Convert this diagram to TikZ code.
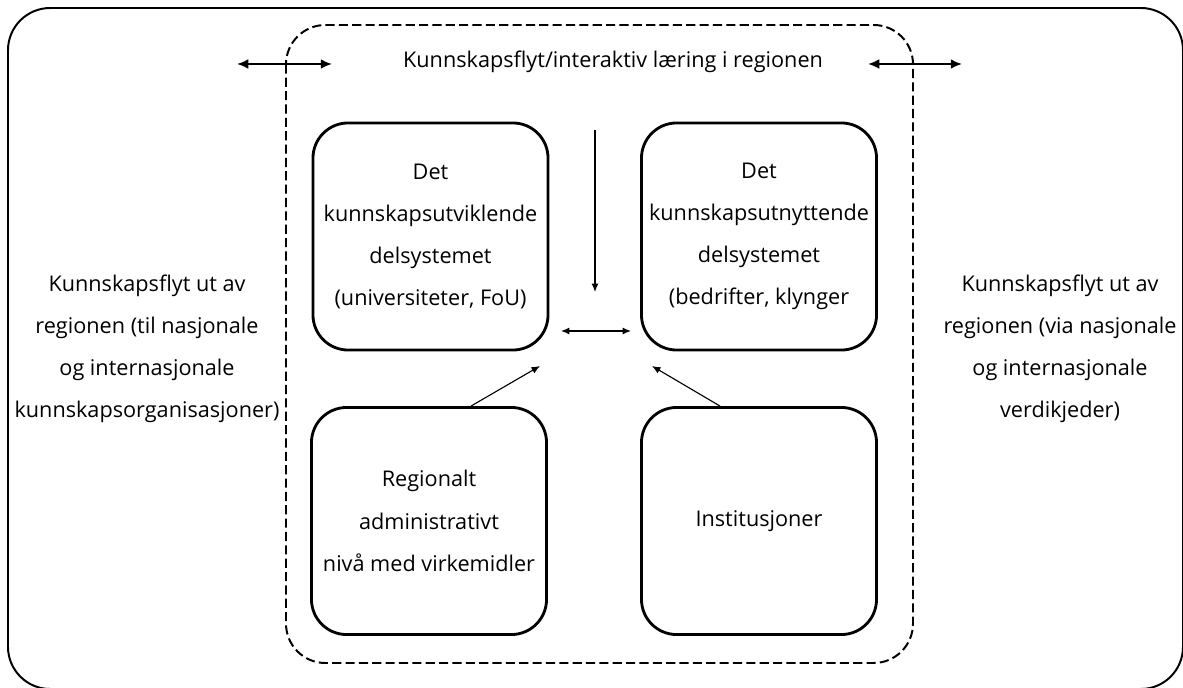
\documentclass[tikz,border=0pt]{standalone}
\usepackage{fontspec}
\setmainfont{Open Sans}
\usetikzlibrary{arrows.meta, positioning, calc}

\begin{document}
\begin{tikzpicture}[x=0.025cm, y=-0.025cm,
  sysbox/.style={draw, line width=2pt, rounded corners=25pt, minimum width=5.875cm, minimum height=5.675cm, align=center, inner sep=0pt, font=\fontsize{15.4}{30}\selectfont},
  sidetext/.style={align=center, inner sep=0pt, font=\fontsize{15.4}{30}\selectfont},
  thickarrow/.style={{Latex[length=8pt, width=7pt]}-{Latex[length=8pt, width=7pt]}, line width=1.5pt},
  thinarrow/.style={-{Latex[length=6pt, width=5pt]}, line width=0.8pt}]
  \useasboundingbox (0,0) rectangle (1183,688);

  % region frames
  \draw[line width=1.4pt, rounded corners=30pt] (8,8) rectangle (1183,689);
  \draw[line width=1.4pt, dash pattern=on 6.5pt off 3pt, rounded corners=28pt] (286,25) rectangle (913,663);

  % subsystems
  \node[sysbox] (devsys) at (430.5,236.5) {Det\\kunnskapsutviklende\\delsystemet\\(universiteter, FoU)};
  \node[sysbox] (usesys) at (759,236.5) {Det\\kunnskapsutnyttende\\delsystemet\\(bedrifter, klynger};
  \node[sysbox] (admin) at (429,521) {Regionalt\\administrativt\\nivå med virkemidler};
  \node[sysbox] (inst) at (759,521) {Institusjoner};

  % texts
  \node[sidetext] (flowtop) at (613,62) {Kunnskapsflyt/interaktiv læring i regionen};
  \node[sidetext] (outleft) at (147,349) {Kunnskapsflyt ut av\\regionen (til nasjonale\\og internasjonale\\kunnskapsorganisasjoner)};
  \node[sidetext] (outright) at (1060,349) {Kunnskapsflyt ut av\\regionen (via nasjonale\\og internasjonale\\verdikjeder)};

  % arrows
  \coordinate (lw) at (237,64);
  \coordinate (le) at (332,64);
  \coordinate (rw) at (868,64);
  \coordinate (re) at (962,64);
  \coordinate (dtop) at (595,130);
  \coordinate (dbot) at (595,292);
  \coordinate (mw) at (561,331);
  \coordinate (me) at (631,331);
  \coordinate (adminhead) at (540,366);
  \coordinate (insthead) at (652,366);
  \draw[thickarrow] (lw) -- (le);
  \draw[thickarrow] (rw) -- (re);
  \draw[thinarrow] (dtop) -- (dbot);
  \draw[thinarrow, {Latex[length=6pt, width=5pt]}-{Latex[length=6pt, width=5pt]}] (mw) -- (me);
  \draw[thinarrow] ([xshift=1.05cm]admin.north) -- (adminhead);
  \draw[thinarrow] ([xshift=-0.975cm]inst.north) -- (insthead);
\end{tikzpicture}
\end{document}
